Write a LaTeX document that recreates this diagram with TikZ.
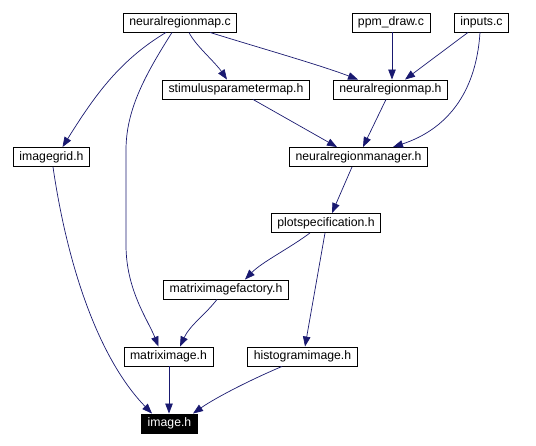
\documentclass[tikz,border=0pt]{standalone}
\usepackage{fontspec}
\setmainfont{Liberation Sans}
\usetikzlibrary{arrows.meta}
\definecolor{edgeblue}{HTML}{191970}
\begin{document}
\begin{tikzpicture}[x=1pt,y=-1pt,
  file/.style={draw=black,line width=0.9pt,fill=white,inner xsep=6pt,inner ysep=0pt,minimum height=19pt,font=\fontsize{12.25}{14}\selectfont},
  focus/.style={file,fill=black,text=white},
  dep/.style={draw=edgeblue,line width=0.7pt,-{Triangle[length=10pt,width=7.5pt]}}]
\useasboundingbox (0,0) rectangle (536,446);
\node[file] (nrmc) at (180,22.5) {neuralregionmap.c};
\node[file] (ppm) at (391,22.5) {ppm\_draw.c};
\node[file] (inp) at (481.5,22.5) {inputs.c};
\node[file] (spm) at (236,89.5) {stimulusparametermap.h};
\node[file] (nrmh) at (390.5,89.5) {neuralregionmap.h};
\node[file] (ig) at (51.5,157) {imagegrid.h};
\node[file] (nrmgr) at (358.5,157) {neuralregionmanager.h};
\node[file] (ps) at (326,223) {plotspecification.h};
\node[file] (mif) at (226,289.5) {matriximagefactory.h};
\node[file] (mi) at (168.5,356.5) {matriximage.h};
\node[file] (hi) at (302.5,356.5) {histogramimage.h};
\node[focus] (img) at (169.5,423.5) {image.h};

\draw[dep] ([xshift=-14pt]nrmc.south) .. controls (120,60) and (95,95) .. ([xshift=11pt]ig.north);
\draw[dep] ([xshift=-8pt]nrmc.south) .. controls (145,75) and (126,110) .. (126,150) -- (126,245) .. controls (126,290) and (148,320) .. ([xshift=-10pt]mi.north);
\draw[dep] ([xshift=9pt]nrmc.south) .. controls (195,45) and (215,62) .. ([xshift=-9pt]spm.north);
\draw[dep] ([xshift=30pt]nrmc.south) .. controls (260,48) and (320,65) .. ([xshift=-32.5pt]nrmh.north);
\draw[dep] ([xshift=1pt]ppm.south) -- ([xshift=1.5pt]nrmh.north);
\draw[dep] ([xshift=-13.5pt]inp.south) -- ([xshift=14.5pt]nrmh.north);
\draw[dep] ([xshift=-1.5pt]inp.south) .. controls (476,95) and (445,130) .. ([xshift=34.5pt]nrmgr.north);
\draw[dep] ([xshift=17pt]spm.south) -- ([xshift=-21.5pt]nrmgr.north);
\draw[dep] ([xshift=-4.5pt]nrmh.south) -- ([xshift=4.5pt]nrmgr.north);
\draw[dep] ([xshift=-6.5pt]nrmgr.south) -- ([xshift=6pt]ps.north);
\draw[dep] ([xshift=-16pt]ps.south) .. controls (290,248) and (262,262) .. ([xshift=19pt]mif.north);
\draw[dep] ([xshift=-1pt]ps.south) -- ([xshift=2.5pt]hi.north);
\draw[dep] ([xshift=1.5pt]ig.south) .. controls (68,270) and (100,360) .. ([xshift=-17.5pt]img.north);
\draw[dep] ([xshift=-9pt]mif.south) .. controls (205,315) and (190,325) .. ([xshift=11.5pt]mi.north);
\draw[dep] ([xshift=0.5pt]mi.south) -- ([xshift=-0.5pt]img.north);
\draw[dep] ([xshift=-20.5pt]hi.south) .. controls (250,380) and (215,398) .. ([xshift=23.5pt]img.north);
\end{tikzpicture}
\end{document}
